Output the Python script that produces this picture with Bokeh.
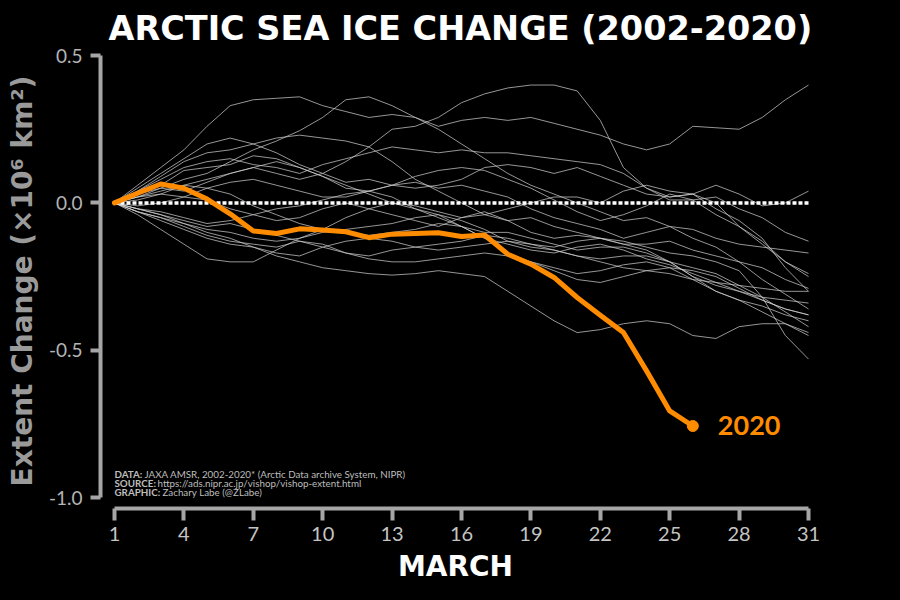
from bokeh.plotting import figure
from bokeh.models import FixedTicker, Label, Range1d, PrintfTickFormatter, GlobalInlineStyleSheet
from bokeh.embed import file_html
from bokeh.resources import INLINE

# ---------------- data ----------------
days = list(range(1, 32))
x_ticks = [1, 4, 7, 10, 13, 16, 19, 22, 25, 28, 31]
y_ticks = [-1.0, -0.5, 0.0, 0.5]

y2002 = [0, 0.06, 0.12, 0.18, 0.26, 0.33, 0.35, 0.355, 0.36, 0.33, 0.31, 0.29, 0.30, 0.29, 0.26, 0.28, 0.29, 0.28, 0.29, 0.27, 0.25, 0.23, 0.20, 0.18, 0.20, 0.26, 0.255, 0.25, 0.29, 0.35, 0.40]
y2003 = [0, 0.03, 0.05, 0.08, 0.10, 0.14, 0.18, 0.21, 0.245, 0.29, 0.35, 0.36, 0.33, 0.29, 0.25, 0.20, 0.15, 0.10, 0.06, 0.03, 0.0, -0.03, -0.06, -0.05, -0.08, -0.12, -0.15, -0.20, -0.26, -0.31, -0.36]
y2004 = [0, 0.02, 0.05, 0.04, 0.07, 0.10, 0.12, 0.10, 0.08, 0.10, 0.14, 0.19, 0.25, 0.26, 0.29, 0.34, 0.37, 0.39, 0.40, 0.40, 0.38, 0.28, 0.12, 0.05, 0.02, 0.03, 0.06, 0.03, -0.01, 0.0, 0.04]
y2005 = [0, 0.04, 0.09, 0.14, 0.17, 0.18, 0.20, 0.22, 0.23, 0.22, 0.21, 0.19, 0.14, 0.08, 0.04, 0.0, -0.04, -0.06, -0.05, -0.08, -0.10, -0.12, -0.14, -0.16, -0.20, -0.25, -0.28, -0.30, -0.33, -0.36, -0.38]
y2006 = [0, 0.04, 0.08, 0.12, 0.14, 0.15, 0.13, 0.12, 0.10, 0.13, 0.15, 0.17, 0.19, 0.18, 0.17, 0.18, 0.17, 0.17, 0.16, 0.15, 0.14, 0.13, 0.10, 0.05, 0.01, 0.01, 0.02, -0.02, -0.05, -0.10, -0.13]
y2007 = [0, 0.05, 0.10, 0.15, 0.20, 0.22, 0.20, 0.17, 0.13, 0.10, 0.07, 0.08, 0.06, 0.05, 0.06, 0.08, 0.12, 0.13, 0.12, 0.10, 0.12, 0.09, 0.06, 0.03, 0.02, 0.03, 0.0, -0.08, -0.14, -0.20, -0.24]
y2008 = [0, 0.03, 0.06, 0.11, 0.12, 0.13, 0.16, 0.15, 0.12, 0.09, 0.06, 0.03, 0.0, -0.01, -0.03, -0.05, -0.04, -0.02, 0.0, 0.02, 0.02, 0.0, 0.04, 0.06, 0.04, 0.03, -0.02, -0.06, -0.12, -0.22, -0.30]
y2009 = [0, 0.02, 0.04, 0.06, 0.08, 0.10, 0.12, 0.14, 0.12, 0.09, 0.05, 0.04, 0.06, 0.09, 0.11, 0.12, 0.11, 0.08, 0.05, 0.01, -0.03, -0.06, -0.04, -0.01, 0.03, 0.01, -0.04, -0.08, -0.13, -0.20, -0.25]
y2010 = [0, 0.02, 0.03, 0.02, 0.05, 0.07, 0.08, 0.06, 0.04, 0.02, 0.02, 0.04, 0.06, 0.07, 0.05, 0.06, 0.04, 0.02, -0.02, -0.05, -0.07, -0.09, -0.12, -0.10, -0.08, -0.09, -0.12, -0.14, -0.15, -0.16, -0.17]
y2011 = [0, -0.01, 0.0, 0.02, 0.01, -0.02, -0.04, -0.06, -0.05, -0.02, 0.0, -0.02, -0.04, -0.06, -0.08, -0.05, -0.03, -0.06, -0.10, -0.12, -0.11, -0.12, -0.14, -0.14, -0.13, -0.16, -0.18, -0.20, -0.22, -0.26, -0.29]
y2012 = [0, -0.02, -0.03, -0.05, -0.07, -0.06, -0.04, -0.02, -0.01, 0.01, 0.03, 0.04, 0.02, -0.02, -0.04, -0.08, -0.12, -0.14, -0.16, -0.17, -0.15, -0.14, -0.16, -0.19, -0.21, -0.24, -0.27, -0.30, -0.32, -0.33, -0.34]
y2013 = [0, -0.02, -0.04, -0.07, -0.09, -0.10, -0.12, -0.13, -0.12, -0.10, -0.09, -0.08, -0.07, -0.05, -0.04, -0.06, -0.09, -0.13, -0.15, -0.16, -0.18, -0.20, -0.22, -0.23, -0.22, -0.23, -0.25, -0.29, -0.33, -0.36, -0.38]
y2014 = [0, -0.03, -0.06, -0.09, -0.12, -0.14, -0.15, -0.17, -0.18, -0.15, -0.13, -0.12, -0.13, -0.15, -0.16, -0.15, -0.14, -0.13, -0.14, -0.16, -0.18, -0.19, -0.18, -0.18, -0.20, -0.22, -0.24, -0.28, -0.32, -0.37, -0.42]
y2015 = [0, -0.03, -0.05, -0.08, -0.11, -0.13, -0.14, -0.15, -0.13, -0.14, -0.17, -0.19, -0.20, -0.20, -0.19, -0.18, -0.17, -0.18, -0.20, -0.23, -0.26, -0.27, -0.25, -0.23, -0.24, -0.26, -0.27, -0.28, -0.29, -0.30, -0.30]
y2016 = [0, -0.04, -0.09, -0.14, -0.19, -0.20, -0.20, -0.16, -0.12, -0.09, -0.05, -0.02, 0.0, -0.02, -0.05, -0.08, -0.10, -0.10, -0.12, -0.14, -0.16, -0.15, -0.15, -0.17, -0.20, -0.25, -0.30, -0.33, -0.37, -0.41, -0.44]
y2017 = [0, -0.03, -0.05, -0.07, -0.10, -0.12, -0.15, -0.18, -0.20, -0.22, -0.23, -0.24, -0.245, -0.24, -0.23, -0.24, -0.25, -0.30, -0.35, -0.40, -0.44, -0.43, -0.41, -0.40, -0.41, -0.45, -0.46, -0.42, -0.41, -0.41, -0.45]
y2018 = [0, -0.02, -0.04, -0.06, -0.08, -0.07, -0.09, -0.11, -0.13, -0.15, -0.17, -0.18, -0.16, -0.15, -0.14, -0.13, -0.11, -0.12, -0.14, -0.15, -0.13, -0.12, -0.13, -0.15, -0.17, -0.18, -0.20, -0.23, -0.32, -0.45, -0.53]
y2019 = [0, 0.01, 0.03, 0.06, 0.05, 0.03, -0.01, -0.04, -0.07, -0.09, -0.10, -0.11, -0.10, -0.09, -0.07, -0.08, -0.12, -0.17, -0.20, -0.22, -0.24, -0.23, -0.21, -0.20, -0.22, -0.26, -0.30, -0.33, -0.35, -0.38, -0.40]

past_years = [y2002, y2003, y2004, y2005, y2006, y2007, y2008, y2009, y2010,
              y2011, y2012, y2013, y2014, y2015, y2016, y2017, y2018, y2019]

days_2020 = list(range(1, 27))
y2020 = [0.0, 0.033, 0.064, 0.05, 0.013, -0.037, -0.095, -0.104, -0.088, -0.092, -0.098, -0.118, -0.106,
         -0.104, -0.101, -0.114, -0.109, -0.174, -0.208, -0.253, -0.321, -0.381, -0.44, -0.57, -0.706, -0.757]

zero_x = [1, 31]
zero_y = [0.0, 0.0]

title_text = "ARCTIC SEA ICE CHANGE (2002-2020)"
credits = [("DATA:", "JAXA AMSR, 2002-2020* (Arctic Data archive System, NIPR)"),
           ("SOURCE:", "https://ads.nipr.ac.jp/vishop/vishop-extent.html"),
           ("GRAPHIC:", "Zachary Labe (@ZLabe)")]

FONT = "Lato"
BOLD_FONT = "DejaVu Sans"
GRAY_AX = "#a6a6a6"

# ---------------- figure ----------------
p = figure(width=884, height=592, output_backend="svg", toolbar_location=None,
           x_range=Range1d(0.395, 31.086), y_range=Range1d(-1.037, 0.507),
           min_border_left=100, min_border_right=74, min_border_top=53, min_border_bottom=84,
           background_fill_color="black", border_fill_color="black")
p.outline_line_color = None
p.grid.visible = False
p.stylesheets = [GlobalInlineStyleSheet(css="body { background-color: #000000; }")]

p.title.text = title_text
p.title.text_color = "white"
p.title.text_font = BOLD_FONT
p.title.text_font_style = "bold"
p.title.text_font_size = "33.5px"
p.title.align = "left"
p.title.offset = 8
p.title.standoff = 11

for ys in past_years:
    p.line(days, ys, line_color="#d0d0d0", line_width=0.9, line_alpha=0.8)

p.line(zero_x, zero_y, line_color="white", line_width=3.5, line_dash="4 2")

p.line(days_2020, y2020, line_color="#FF8C00", line_width=5, line_join="round", line_cap="round")
p.scatter([days_2020[-1]], [y2020[-1]], size=11, color="#FF8C00")

p.add_layout(Label(x=days_2020[-1], y=y2020[-1], x_offset=25, text="2020", text_color="#FF8C00",
                   text_font=FONT, text_font_style="bold", text_font_size="27px",
                   text_baseline="middle", text_align="left"))

# axes
xa = p.xaxis[0]
xa.ticker = FixedTicker(ticks=x_ticks)
xa.bounds = (1, 31)
xa.axis_line_color = GRAY_AX
xa.axis_line_width = 4
xa.major_tick_line_color = GRAY_AX
xa.major_tick_line_width = 4
xa.major_tick_out = 12
xa.major_tick_in = 0
xa.minor_tick_line_color = None
xa.major_label_text_color = "#c4c4c4"
xa.major_label_text_font = FONT
xa.major_label_text_font_size = "20px"
xa.major_label_standoff = 6
xa.axis_label = "MARCH"
xa.axis_label_text_color = "white"
xa.axis_label_text_font = BOLD_FONT
xa.axis_label_text_font_style = "bold"
xa.axis_label_text_font_size = "28px"
xa.axis_label_standoff = 6

ya = p.yaxis[0]
ya.ticker = FixedTicker(ticks=y_ticks)
ya.formatter = PrintfTickFormatter(format="%.1f")
ya.bounds = (-1.0, 0.5)
ya.axis_line_color = GRAY_AX
ya.axis_line_width = 4
ya.major_tick_line_color = GRAY_AX
ya.major_tick_line_width = 4
ya.major_tick_out = 10
ya.major_tick_in = 0
ya.minor_tick_line_color = None
ya.major_label_text_color = "#b4b4b4"
ya.major_label_text_font = FONT
ya.major_label_text_font_size = "19px"
ya.major_label_standoff = 8
ya.axis_label = "Extent Change (\u00d710\u2076 km\u00b2)"
ya.axis_label_text_color = "#9a9a9a"
ya.axis_label_text_font = BOLD_FONT
ya.axis_label_text_font_style = "bold"
ya.axis_label_text_font_size = "28px"
ya.axis_label_standoff = 7

# credits
cred_y = [-0.92, -0.95, -0.981]
cred_off = [30, 43, 48]
for (head, body), yy, off in zip(credits, cred_y, cred_off):
    p.add_layout(Label(x=1, y=yy, text=head, text_color="#bdbdbd", text_font=FONT,
                       text_font_style="bold", text_font_size="9.8px", text_baseline="middle"))
    p.add_layout(Label(x=1, y=yy, x_offset=off, text=body, text_color="#bdbdbd", text_font=FONT,
                       text_font_size="9.8px", text_baseline="middle"))

open("out.html", "w").write(file_html(p, INLINE))
